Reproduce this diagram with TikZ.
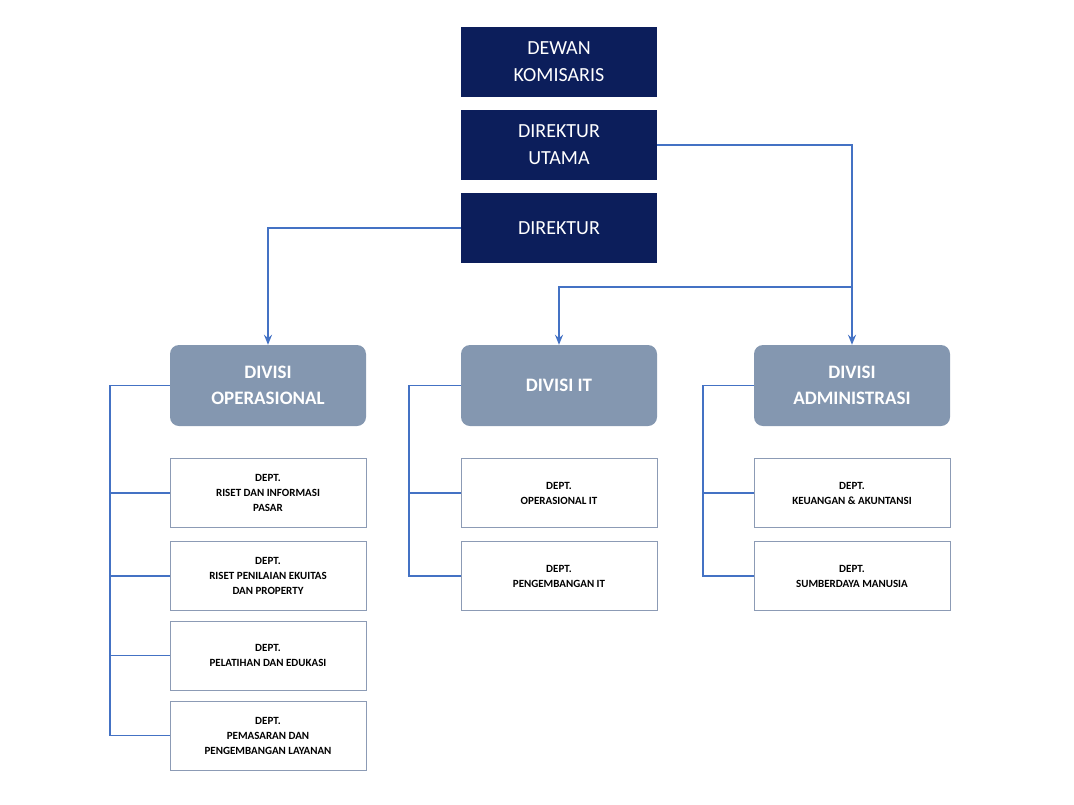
\documentclass[tikz,border=0pt]{standalone}
\usepackage{fontspec}
\setmainfont{Carlito}
\usetikzlibrary{arrows.meta}
\definecolor{navy}{HTML}{0C1E5B}
\definecolor{divc}{HTML}{8497B0}
\definecolor{lnc}{HTML}{4472C4}
\definecolor{brd}{HTML}{8C9BB5}
\begin{document}
\begin{tikzpicture}[x=1pt,y=-1pt,
 top/.style={fill=navy,text=white,minimum width=196pt,minimum height=70pt,align=center,font=\fontsize{20}{27}\selectfont,inner sep=0pt},
 div/.style={fill=divc,text=white,rounded corners=9pt,minimum width=196pt,minimum height=81pt,align=center,font=\bfseries\fontsize{19}{26}\selectfont,inner sep=0pt},
 dept/.style={draw=brd,line width=1pt,fill=white,minimum width=196pt,minimum height=69pt,align=center,font=\bfseries\fontsize{11}{15}\selectfont,inner sep=0pt},
 ln/.style={draw=lnc,line width=1.6pt},
 ar/.style={ln,-{Stealth[length=10pt,width=8pt]}}]
\useasboundingbox (0,0) rectangle (1074,804);
\node[top] (dk) at (559,62) {DEWAN\\KOMISARIS};
\node[top] (du) at (559,145) {DIREKTUR\\UTAMA};
\node[top] (dr) at (559,228) {DIREKTUR};
\node[div] (vo) at (268,385.5) {DIVISI\\OPERASIONAL};
\node[div] (vi) at (559,385.5) {DIVISI IT};
\node[div] (va) at (852,385.5) {DIVISI\\ADMINISTRASI};
\node[dept] (o1) at (268,493) {DEPT.\\RISET DAN INFORMASI\\PASAR};
\node[dept] (o2) at (268,576) {DEPT.\\RISET PENILAIAN EKUITAS\\DAN PROPERTY};
\node[dept] (o3) at (268,655.5) {DEPT.\\PELATIHAN DAN EDUKASI};
\node[dept] (o4) at (268,735.5) {DEPT.\\PEMASARAN DAN\\PENGEMBANGAN LAYANAN};
\node[dept] (i1) at (559,493) {DEPT.\\OPERASIONAL IT};
\node[dept] (i2) at (559,576) {DEPT.\\PENGEMBANGAN IT};
\node[dept] (a1) at (852,493) {DEPT.\\KEUANGAN \& AKUNTANSI};
\node[dept] (a2) at (852,576) {DEPT.\\SUMBERDAYA MANUSIA};
\coordinate (jb) at (853,287);
\draw[ar] (dr.west) -| (vo.north);
\draw[ar] (du.east) -| (va.north);
\draw[ar] (jb) -| (vi.north);
\draw[ln] (vo.west) -- ++(-60,0) |- (o4.west);
\foreach \n in {o1,o2,o3} \draw[ln] (110,0 |- \n.west) -- (\n.west);
\draw[ln] (vi.west) -- ++(-52,0) |- (i2.west);
\draw[ln] (409,0 |- i1.west) -- (i1.west);
\draw[ln] (va.west) -- ++(-51,0) |- (a2.west);
\draw[ln] (703,0 |- a1.west) -- (a1.west);
\end{tikzpicture}
\end{document}
